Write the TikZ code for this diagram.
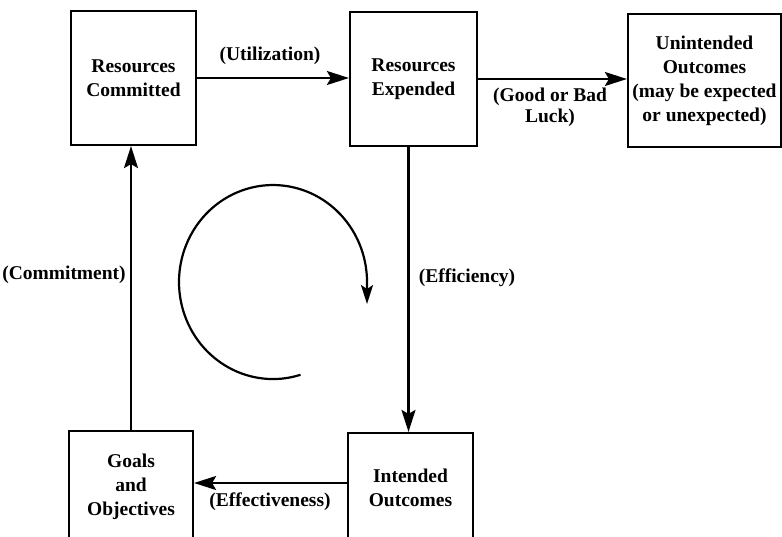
\documentclass[tikz,border=0pt]{standalone}
\usepackage{fontspec}
\setmainfont{Liberation Serif}
\usetikzlibrary{arrows.meta}
\begin{document}
\begin{tikzpicture}[x=1pt,y=-1pt,
  box/.style={draw, line width=2.2pt, align=center, inner sep=0pt,
    font=\bfseries\fontsize{19.5}{24}\selectfont},
  lbl/.style={align=center, inner sep=0pt, font=\bfseries\fontsize{19.5}{21}\selectfont},
  arr/.style={-{Stealth[length=22pt,width=14pt,inset=4pt]}, line width=2.2pt}]
\useasboundingbox (0,0) rectangle (782,537);
\clip (0,0) rectangle (782,537);
\node[box, minimum width=125, minimum height=134] (rc) at (133.5,78) {Resources\\Committed};
\node[box, minimum width=127, minimum height=134] (re) at (413.5,79) {Resources\\Expended};
\node[box, minimum width=153, minimum height=133] (uo) at (704.5,80.5) {Unintended\\Outcomes\\(may be expected\\or unexpected)};
\node[box, minimum width=124, minimum height=112] (go) at (131,487) {Goals\\and\\Objectives};
\node[box, minimum width=125, minimum height=110] (io) at (410.5,488) {Intended\\Outcomes};
\draw[arr] (rc.east) -- (rc.east -| re.west);
\draw[arr] (re.east) -- (re.east -| uo.west);
\coordinate (ea) at ([xshift=-5pt]re.south);
\draw[arr] (ea) -- (ea |- io.north);
\coordinate (eb) at ([yshift=5pt]io.west);
\draw[arr] (eb) -- (eb -| go.east);
\draw[arr] (go.north) -- (go.north |- rc.south);
\node[lbl] (lu) at (270,56) {(Utilization)};
\node[lbl] (lg) at (550,107) {(Good or Bad\\Luck)};
\node[lbl] (lc) at (64,275) {(Commitment)};
\node[lbl] (le) at (467,278) {(Efficiency)};
\node[lbl] (lf) at (270,502) {(Effectiveness)};
\coordinate (cs) at (300.5,374.8);
\draw[-{Stealth[length=19pt,width=12pt,inset=4pt]}, line width=2.2pt] (cs) arc[start angle=-73, end angle=-360, x radius=94pt, y radius=97pt] -- ++(0,22);
\end{tikzpicture}
\end{document}
